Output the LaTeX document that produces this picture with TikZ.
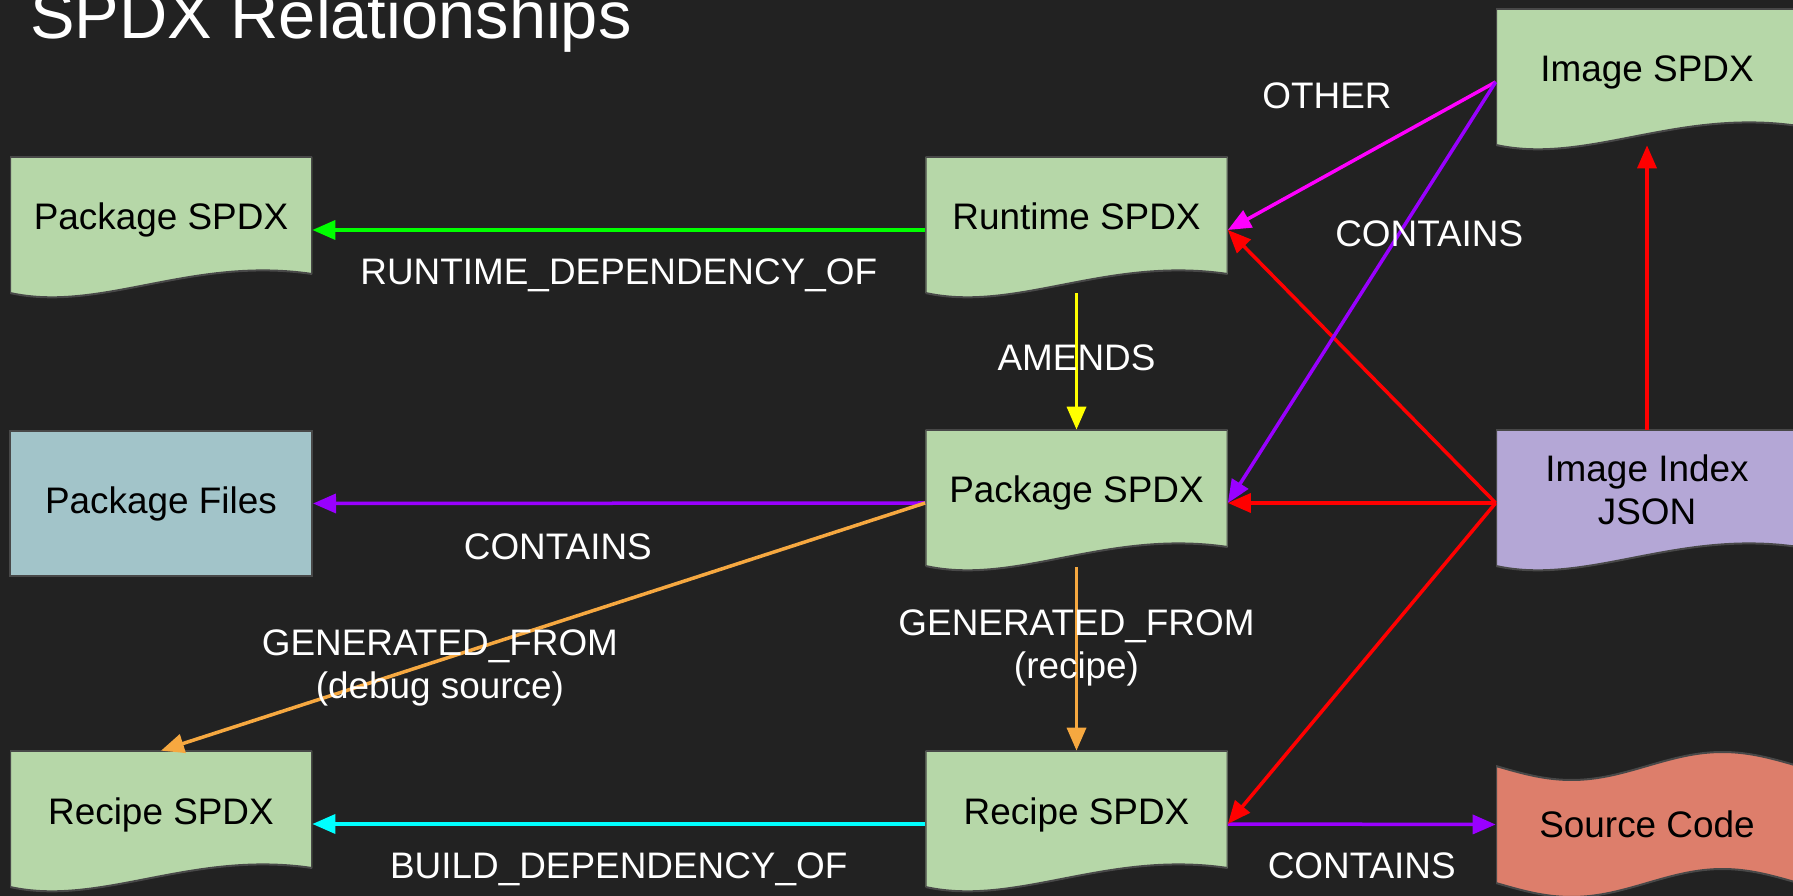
\documentclass[tikz,border=0pt]{standalone}
\usepackage{fontspec}
\setmainfont{Liberation Sans}
\usepackage{xcolor}
\usepackage{tikz}
\usetikzlibrary{positioning, arrows.meta}
\definecolor{BgDark}{RGB}{34,34,34}
\definecolor{EdgeGray}{RGB}{72,72,72}
\definecolor{DocGreen}{RGB}{182,215,168}
\definecolor{FileBlue}{RGB}{162,196,201}
\definecolor{IndexPurple}{RGB}{180,167,214}
\definecolor{CodeRed}{RGB}{221,126,107}
\definecolor{RelGreen}{RGB}{0,255,0}
\definecolor{RelYellow}{RGB}{255,255,0}
\definecolor{RelPurple}{RGB}{153,0,255}
\definecolor{RelOrange}{RGB}{246,168,64}
\definecolor{RelCyan}{RGB}{0,255,255}
\definecolor{RelMagenta}{RGB}{255,0,255}
\definecolor{RelRed}{RGB}{255,0,0}
\tikzset{
  docnode/.style={rectangle, fill=BgDark, inner sep=0pt, minimum width=6.04cm, minimum height=2.92cm,
    font=\fontsize{21}{24.5}\selectfont, text=black, text height=17pt, text depth=17pt,
    path picture={\filldraw[fill=#1, draw=EdgeGray, line width=0.04cm]
      (path picture bounding box.north west) -- (path picture bounding box.north east)
      -- ++(0,-2.34) .. controls +(-2.42,0.36) and +(1.82,-0.40) .. ([yshift=-2.72cm]path picture bounding box.north west)
      -- cycle;}},
  tapenode/.style={rectangle, fill=BgDark, inner sep=0pt, minimum width=6.04cm, minimum height=2.9cm,
    font=\fontsize{21}{24.5}\selectfont, text=black,
    path picture={\filldraw[fill=#1, draw=EdgeGray, line width=0.04cm]
      ([yshift=-0.28cm]path picture bounding box.north west)
      sin ++(1.51,-0.28) cos ++(1.51,0.28) sin ++(1.51,0.28) cos ++(1.51,-0.28)
      -- ++(0,-2.34)
      sin ++(-1.51,0.28) cos ++(-1.51,-0.28) sin ++(-1.51,-0.28) cos ++(-1.51,0.28)
      -- cycle;}},
  filebox/.style={rectangle, fill=FileBlue, draw=EdgeGray, line width=0.04cm, inner sep=0pt,
    minimum width=6.04cm, minimum height=2.9cm, font=\fontsize{21}{24.5}\selectfont, text=black},
  relarrow/.style={-{Triangle[length=0.46cm, width=0.38cm]}, line width=0.07cm},
  rellabel/.style={font=\fontsize{21}{24.5}\selectfont, text=white, align=center, inner sep=0pt}
}

\begin{document}
\begin{tikzpicture}
  \useasboundingbox (0,0) rectangle (35.86,17.90);
  \fill[BgDark] (-0.2,-0.2) rectangle (36.1,18.1);

  \node[anchor=base west, inner sep=0pt, text=white, font=\fontsize{38}{44}\selectfont] (title) at (0.6,17.13) {SPDX Relationships};

  % left column
  \node[docnode=DocGreen] (pkgtop) at (3.22,13.30) {Package SPDX};
  \node[filebox] (pkgfiles) at (3.22,7.83) {Package Files};
  \node[docnode=DocGreen] (recleft) at (3.22,1.42) {Recipe SPDX};
  % middle column
  \node[docnode=DocGreen] (runtime) at (21.53,13.30) {Runtime SPDX};
  \node[docnode=DocGreen] (pkgmid) at (21.53,7.84) {Package SPDX};
  \node[docnode=DocGreen] (recmid) at (21.53,1.42) {Recipe SPDX};
  % right column
  \node[docnode=DocGreen] (image) at (32.94,16.26) {Image SPDX};
  \node[docnode=IndexPurple, align=center, text height=1.18cm, text depth=0.3cm] (index) at (32.94,7.84) {Image Index\\JSON};
  \node[tapenode=CodeRed] (source) at (32.94,1.41) {Source Code};

  % relationships
  \draw[relarrow, RelGreen] (runtime.west) -- node[rellabel, yshift=-0.91cm] {RUNTIME\_DEPENDENCY\_OF} (pkgtop.east);
  \draw[relarrow, RelYellow, shorten <=-0.2cm] (runtime.south) -- node[rellabel, pos=0.43] {AMENDS} (pkgmid.north);
  \draw[relarrow, RelPurple] (pkgmid.west) -- node[rellabel, pos=0.6, yshift=-0.88cm] {CONTAINS} (pkgfiles.east);
  \draw[relarrow, RelOrange] (pkgmid.west) -- node[rellabel, pos=0.635, yshift=-0.15cm] {GENERATED\_FROM\\(debug source)} (recleft.north);
  \draw[relarrow, RelOrange, shorten <=-0.18cm] (pkgmid.south) -- node[rellabel, pos=0.41] {GENERATED\_FROM\\(recipe)} (recmid.north);
  \draw[relarrow, RelCyan] (recmid.west) -- node[rellabel, yshift=-0.9cm] {BUILD\_DEPENDENCY\_OF} (recleft.east);
  \draw[relarrow, RelPurple] (recmid.east) -- node[rellabel, yshift=-0.84cm] {CONTAINS} (source.west);
  \draw[relarrow, RelRed] (index.west) -- (runtime.east);
  \draw[relarrow, RelRed] (index.west) -- (pkgmid.east);
  \draw[relarrow, RelRed] (index.west) -- (recmid.east);
  \draw[relarrow, RelRed, shorten >=-0.2cm] (index.north) -- (image.south);
  \draw[relarrow, RelMagenta] (image.west) -- node[rellabel, pos=0.63, yshift=1.58cm] {OTHER} (runtime.east);
  \draw[relarrow, RelPurple] (image.west) -- node[rellabel, pos=0.36, xshift=0.6cm] {CONTAINS} (pkgmid.east);
\end{tikzpicture}
\end{document}
